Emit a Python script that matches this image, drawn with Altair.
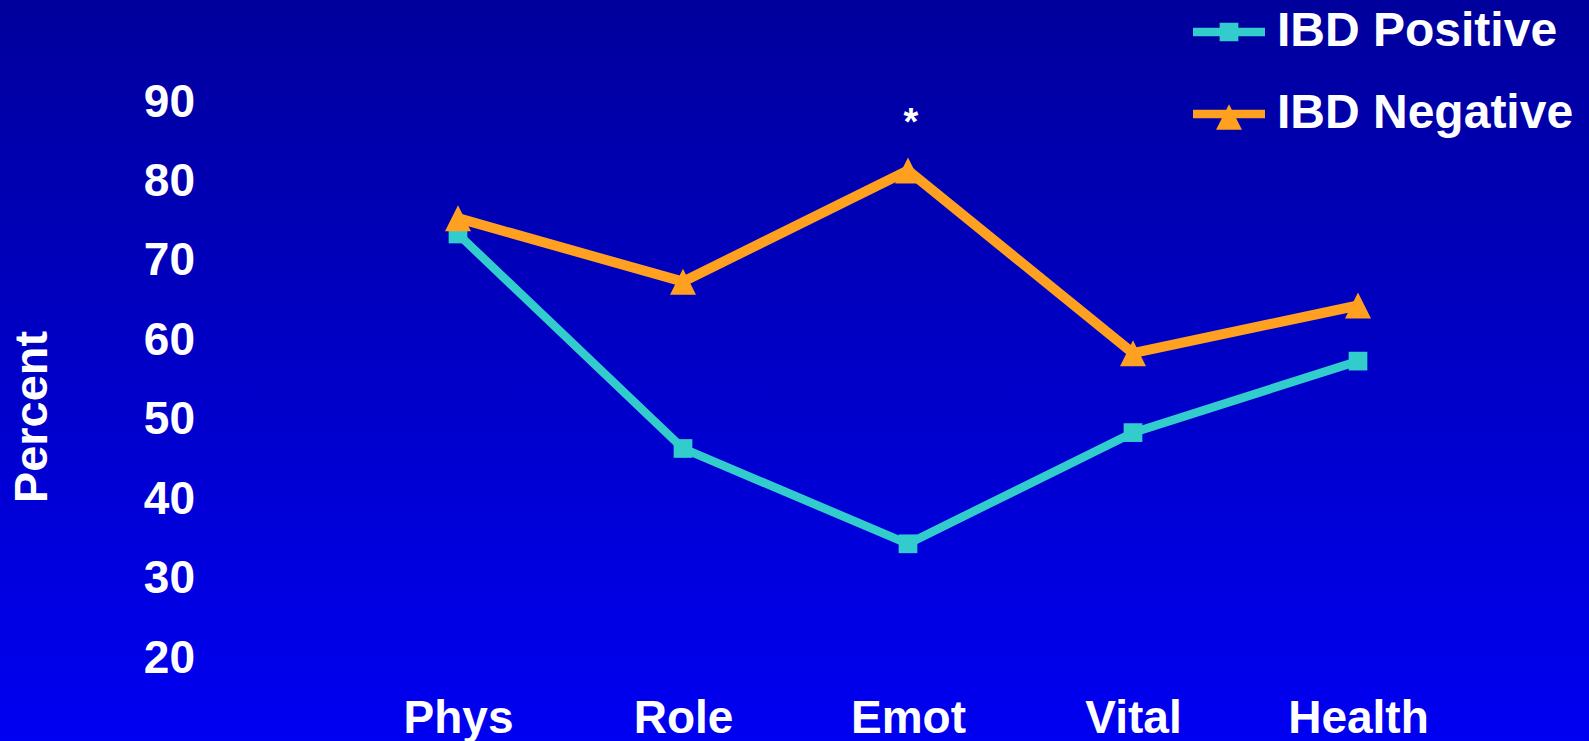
import altair as alt
import pandas as pd

# Scale scores by subscale for the two groups
categories = ["Phys", "Role", "Emot", "Vital", "Health"]
series_names = ["IBD Positive", "IBD Negative"]
ibd_positive = [73, 46, 34, 48, 57]
ibd_negative = [75, 67, 81, 58, 64]
y_ticks = [20, 30, 40, 50, 60, 70, 80, 90]
series_colors = ["#33CCCC", "#FFA020"]
marked_category = "Emot"  # significant difference between groups

rows = []
for cat, pos, neg in zip(categories, ibd_positive, ibd_negative):
    rows.append({"category": cat, "series": series_names[0], "percent": pos})
    rows.append({"category": cat, "series": series_names[1], "percent": neg})
df = pd.DataFrame(rows)

FONT = "Liberation Sans"
AXIS_FS = 46
TITLE_FS = 47
LEGEND_FS = 48
W, H = 1125, 556
PAD = {"left": 345.5, "top": 99, "right": 118.5, "bottom": 86}

# marker shapes (unit box -1..1)
triangle = "M0,-1L1,1L-1,1Z"
# legend symbols: line segment with the marker on it
legend_pos = "M-1,-0.115H1V0.115H-1Z M-0.26,-0.26H0.26V0.26H-0.26Z"
legend_neg = "M-1,-0.115H1V0.115H-1Z M0,-0.27L0.36,0.44H-0.36Z"

x_enc = alt.X(
    "category:N",
    sort=categories,
    scale=alt.Scale(type="point", padding=0.5),
    axis=alt.Axis(
        title=None, labelAngle=0, labelFont=FONT, labelFontSize=AXIS_FS,
        labelFontWeight="bold", labelColor="white", labelPadding=41,
        ticks=False, tickSize=0, domain=False, grid=False, zindex=1,
    ),
)
y_enc = alt.Y(
    "percent:Q",
    scale=alt.Scale(domain=[20, 90], nice=False, zero=False),
    axis=alt.Axis(
        values=y_ticks, title="Percent", titleFont=FONT, titleFontSize=TITLE_FS,
        titleFontWeight="bold", titleColor="white", titleAngle=-90,
        titleX=-313, titleY=317.5, titleAlign="center", titleBaseline="middle",
        labelFont=FONT, labelFontSize=AXIS_FS, labelFontWeight="bold",
        labelColor="white", labelAlign="right", labelBaseline="middle",
        labelPadding=151, labelOffset=3, labelFlush=False, labelOverlap=False,
        ticks=False, tickSize=0, domain=False, grid=False, zindex=1,
    ),
)
color_scale = alt.Scale(domain=series_names, range=series_colors)

gradient = alt.Gradient(
    gradient="linear",
    stops=[
        alt.GradientStop(color="#00009C", offset=0),
        alt.GradientStop(color="#0000F2", offset=1),
    ],
    x1=0, x2=0, y1=0, y2=1,
)

background = alt.Chart(pd.DataFrame({"bg": [0]})).mark_rect(fill=gradient).encode(
    x=alt.value(-PAD["left"]),
    x2=alt.value(W + PAD["right"]),
    y=alt.value(-PAD["top"]),
    y2=alt.value(H + PAD["bottom"]),
)

lines = alt.Chart(df).mark_line().encode(
    x=x_enc,
    y=y_enc,
    color=alt.Color("series:N", scale=color_scale, legend=None),
    strokeWidth=alt.StrokeWidth(
        "series:N", scale=alt.Scale(domain=series_names, range=[8.5, 10]), legend=None
    ),
    detail="series:N",
)

points = alt.Chart(df).mark_point(filled=True, opacity=1).encode(
    x=x_enc,
    y=y_enc,
    color=alt.Color("series:N", scale=color_scale, legend=None),
    shape=alt.Shape(
        "series:N", scale=alt.Scale(domain=series_names, range=["square", triangle]), legend=None
    ),
    size=alt.Size(
        "series:N", scale=alt.Scale(domain=series_names, range=[350, 676]), legend=None
    ),
)

star = alt.Chart(df).transform_filter(
    (alt.datum.category == marked_category) & (alt.datum.series == series_names[1])
).mark_text(
    text="*", font=FONT, fontSize=38, fontWeight="bold", color="white",
    baseline="middle", dx=3, dy=-46,
).encode(x=x_enc, y=y_enc)

legend_props = dict(
    title=None, orient="none", legendX=847.5, legendY=-103, padding=0,
    labelFont=FONT, labelFontSize=LEGEND_FS, labelFontWeight="bold", labelColor="white",
    labelLimit=500, labelOffset=12, symbolSize=5184, symbolStrokeWidth=0,
    symbolOpacity=1, rowPadding=22,
)
legend_layer = alt.Chart(df).transform_filter("false").mark_point(
    filled=True, opacity=1
).encode(
    color=alt.Color("series:N", scale=color_scale, legend=alt.Legend(**legend_props)),
    shape=alt.Shape(
        "series:N",
        scale=alt.Scale(domain=series_names, range=[legend_pos, legend_neg]),
        legend=alt.Legend(**legend_props),
    ),
)

chart = (
    alt.layer(background, lines, points, star, legend_layer)
    .resolve_scale(color="independent", shape="independent", size="independent")
    .properties(
        width=W, height=H,
        autosize=alt.AutoSizeParams(type="none"),
        padding=PAD,
        background="#0000C8",
    )
    .configure_view(stroke=None)
)

chart.save("out.html", embed_options={"renderer": "svg", "actions": False})
